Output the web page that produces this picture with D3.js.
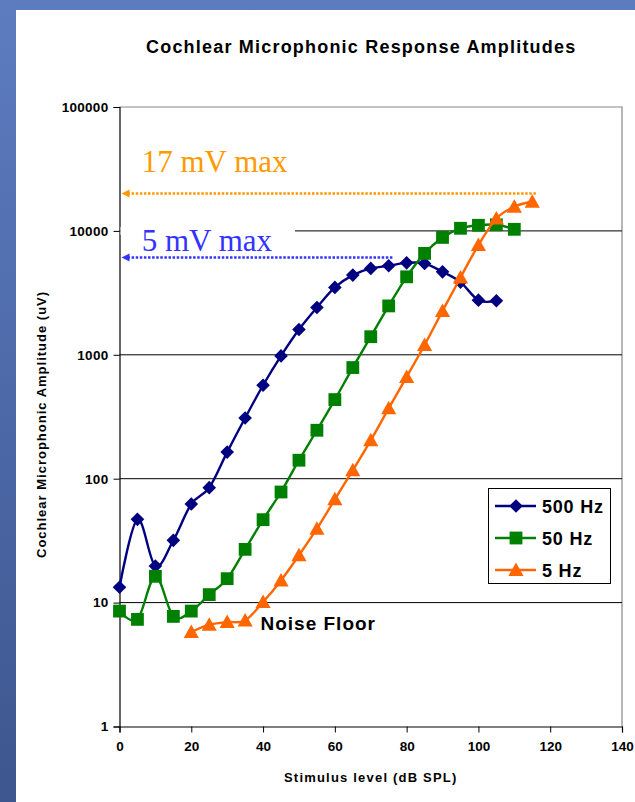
<!DOCTYPE html>
<html>
<head>
<meta charset="utf-8">
<script src="https://cdn.jsdelivr.net/npm/d3@7"></script>
<style>
  html, body { margin: 0; padding: 0; background: #fff; }
  svg { display: block; }
  text { font-family: "Liberation Sans", Arial, sans-serif; }
</style>
</head>
<body>
<svg id="chart" width="635" height="802"></svg>
<script>
// Stimulus levels (dB SPL) and cochlear microphonic amplitudes (uV)
const levels500 = [0, 5, 10, 15, 20, 25, 30, 35, 40, 45, 50, 55, 60, 65, 70, 75, 80, 85, 90, 95, 100, 105];
const amp500 = [13.3, 47, 19.7, 31.8, 62.5, 84.7, 164, 309, 568, 980, 1600, 2410, 3500, 4400, 4980, 5230, 5520, 5460, 4670, 3860, 2760, 2730];

const levels50 = [0, 5, 10, 15, 20, 25, 30, 35, 40, 45, 50, 55, 60, 65, 70, 75, 80, 85, 90, 95, 100, 105, 110];
const amp50 = [8.54, 7.32, 16.3, 7.74, 8.54, 11.6, 15.6, 26.9, 46.7, 78.1, 141, 246, 435, 789, 1400, 2480, 4260, 6580, 8860, 10500, 11100, 11200, 10300];

const levels5 = [20, 25, 30, 35, 40, 45, 50, 55, 60, 65, 70, 75, 80, 85, 90, 95, 100, 105, 110, 115];
const amp5 = [5.78, 6.63, 6.96, 7.18, 10.1, 15.1, 24.1, 39.5, 68.2, 117, 204, 370, 663, 1200, 2260, 4210, 7680, 12600, 15700, 17200];

const seriesNames = ["500 Hz", "50 Hz", "5 Hz"];
const xTicks = [0, 20, 40, 60, 80, 100, 120, 140];
const yTicks = [1, 10, 100, 1000, 10000, 100000];

// Maximum-amplitude call-outs: arrow level (uV), arrow span (dB), label level (uV)
const maxLabels = ["17 mV max", "5 mV max"];
const maxArrowLevel = [20000, 6100];
const maxArrowEnd = [116.2, 76.2];
const maxLabelLevel = [30000, 6900];

const svg = d3.select("#chart");

// slide frame
const defs = svg.append("defs");
const grad = defs.append("linearGradient").attr("id", "frame").attr("x1", 0).attr("y1", 0).attr("x2", 0).attr("y2", 1);
grad.append("stop").attr("offset", 0).attr("stop-color", "#5d7cc0");
grad.append("stop").attr("offset", 1).attr("stop-color", "#3d568f");
svg.append("rect").attr("width", 635).attr("height", 802).attr("fill", "url(#frame)");
svg.append("rect").attr("x", 16).attr("y", 10).attr("width", 619).attr("height", 792).attr("fill", "#fff");

const x = d3.scaleLinear().domain([0, 140]).range([119.5, 622]);
const y = d3.scaleLog().domain([1, 100000]).range([726.5, 107]);

// title
svg.append("text")
  .attr("x", 146).attr("y", 53)
  .style("font-size", "18px").style("font-weight", "bold").style("letter-spacing", "1.2px")
  .text("Cochlear Microphonic Response Amplitudes");

// plot frame (top and right) and gridlines
svg.append("path")
  .attr("d", `M${x(0)},${y(100000)}H${x(140)}V${y(1)}`)
  .attr("fill", "none").attr("stroke", "#888").attr("stroke-width", 1.2);

svg.append("g").selectAll("line")
  .data(yTicks.filter(t => t > 1 && t < 100000))
  .join("line")
  .attr("x1", x(0)).attr("x2", x(140))
  .attr("y1", d => y(d)).attr("y2", d => y(d))
  .attr("stroke", "#000").attr("stroke-width", 1);

// axes
const yAxis = svg.append("g")
  .attr("transform", `translate(${x(0)},0)`)
  .call(d3.axisLeft(y).tickValues(yTicks).tickFormat(d3.format("d")).tickSize(6).tickPadding(5));
const xAxis = svg.append("g")
  .attr("transform", `translate(0,${y(1)})`)
  .call(d3.axisBottom(x).tickValues(xTicks).tickSize(6).tickPadding(9));
[yAxis, xAxis].forEach(g => {
  g.select(".domain").attr("stroke", "#000").attr("stroke-width", 1.2);
  g.selectAll(".tick line").attr("stroke", "#000");
  g.selectAll("text").style("font-family", "'Liberation Sans', Arial, sans-serif")
    .style("font-size", "13.5px").style("font-weight", "bold").attr("fill", "#000");
});
yAxis.selectAll("text").style("letter-spacing", "0.3px");

// axis titles
svg.append("text")
  .attr("x", 284).attr("y", 781.5)
  .style("font-size", "13px").style("font-weight", "bold").style("letter-spacing", "1.2px")
  .text("Stimulus level (dB SPL)");
svg.append("text")
  .attr("transform", "translate(45.5,558) rotate(-90)")
  .style("font-size", "13px").style("font-weight", "bold").style("letter-spacing", "1px")
  .text("Cochlear Microphonic Amplitude (uV)");

// marker shapes
const diamond = { draw(c) { const r = 6.8; c.moveTo(0, -r); c.lineTo(r, 0); c.lineTo(0, r); c.lineTo(-r, 0); c.closePath(); } };
const square = { draw(c) { const r = 6.4; c.rect(-r, -r, 2 * r, 2 * r); } };
const triangle = { draw(c) { c.moveTo(0, -7.5); c.lineTo(7.6, 6); c.lineTo(-7.6, 6); c.closePath(); } };

const series = [
  { name: seriesNames[0], xs: levels500, ys: amp500, color: "#000080", shape: diamond },
  { name: seriesNames[1], xs: levels50, ys: amp50, color: "#008000", shape: square },
  { name: seriesNames[2], xs: levels5, ys: amp5, color: "#ff6600", shape: triangle }
];

const line = d3.line()
  .x(d => x(d[0])).y(d => y(d[1]))
  .curve(d3.curveCardinal.tension(0));

series.forEach(s => {
  const pts = s.xs.map((v, i) => [v, s.ys[i]]);
  const g = svg.append("g");
  g.append("path").attr("d", line(pts))
    .attr("fill", "none").attr("stroke", s.color).attr("stroke-width", 2.4);
  g.selectAll("path.m").data(pts).join("path").attr("class", "m")
    .attr("transform", d => `translate(${x(d[0])},${y(d[1])})`)
    .attr("d", d3.symbol().type(s.shape)())
    .attr("fill", s.color);
});

// "Noise Floor" note
svg.append("text")
  .attr("x", 260.5).attr("y", 630)
  .style("font-size", "19px").style("font-weight", "bold").style("letter-spacing", "1px")
  .text("Noise Floor");

// maximum call-outs
const calloutColors = ["#ff9900", "#3333ff"];
maxLabels.forEach((lab, i) => {
  const g = svg.append("g");
  const ay = y(maxArrowLevel[i]);
  const col = calloutColors[i];
  if (i === 1) {
    // label box hides the gridline behind the text
    g.append("rect").attr("x", x(0) + 1).attr("y", y(10000) - 4)
      .attr("width", 295 - x(0) - 1).attr("height", 8).attr("fill", "#fff");
  }
  g.append("text")
    .attr("x", 141.7).attr("y", y(maxLabelLevel[i]))
    .style("font-family", "'Liberation Serif', 'Times New Roman', serif")
    .style("font-size", "31px").attr("fill", col)
    .text(lab);
  g.append("line")
    .attr("x1", x(0) + 8).attr("x2", x(maxArrowEnd[i]))
    .attr("y1", ay).attr("y2", ay)
    .attr("stroke", col).attr("stroke-width", 2.5).attr("stroke-dasharray", "2.5 1.6");
  g.append("path")
    .attr("d", `M${x(0) + 2},${ay}l8,-4v8z`)
    .attr("fill", col);
});

// legend
const leg = svg.append("g");
leg.append("rect").attr("x", 488.5).attr("y", 488.5).attr("width", 122).attr("height", 95)
  .attr("fill", "#fff").attr("stroke", "#000").attr("stroke-width", 1);
series.forEach((s, i) => {
  const ly = 506 + i * 32;
  leg.append("line").attr("x1", 495).attr("x2", 536).attr("y1", ly).attr("y2", ly)
    .attr("stroke", s.color).attr("stroke-width", 2.4);
  leg.append("path").attr("transform", `translate(516,${ly})`)
    .attr("d", d3.symbol().type(s.shape)()).attr("fill", s.color);
  leg.append("text").attr("x", 542).attr("y", ly + 6.5)
    .style("font-size", "18px").style("font-weight", "bold").style("letter-spacing", "0.8px")
    .text(s.name);
});
</script>
</body>
</html>
